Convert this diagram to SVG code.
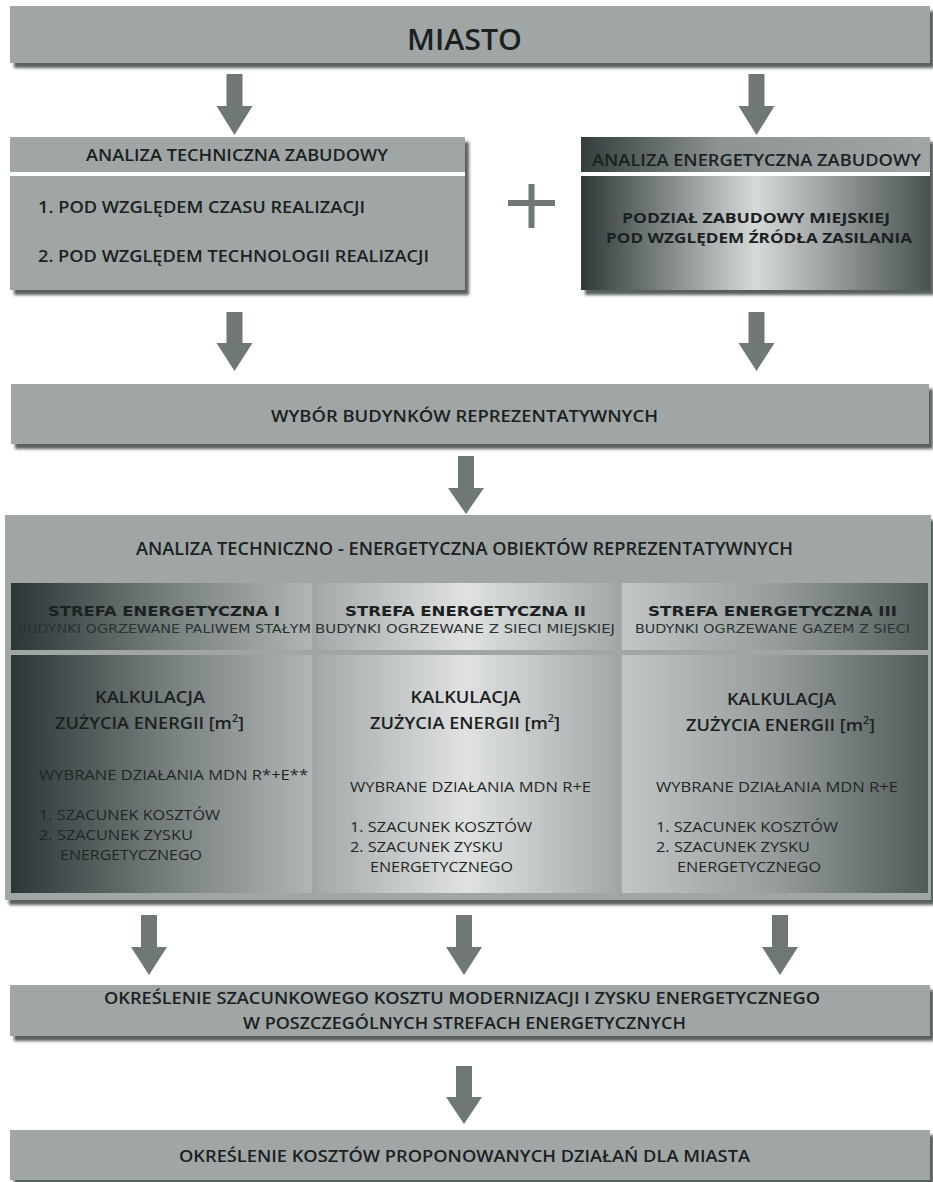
<svg xmlns="http://www.w3.org/2000/svg" width="933" height="1182" viewBox="0 0 933 1182">
<style>
.box{fill:#a0a6a6}
.arr{fill:#6f7777}
.sep{fill:#ffffff}
.t{font-family:"Open Sans","Liberation Sans",sans-serif;font-weight:600;fill:#1b2121}
.tb{font-family:"Open Sans","Liberation Sans",sans-serif;font-weight:700;fill:#1b2121}
.tr{font-family:"Open Sans","Liberation Sans",sans-serif;font-weight:400;fill:#1f2626}
.v{font-family:"DejaVu Sans","Verdana",sans-serif;font-weight:700;fill:#1b2121}
.vs{font-family:"DejaVu Sans","Verdana",sans-serif;font-weight:400;fill:#2a3232}
</style>
<defs>
<filter id="sh" x="-5%" y="-10%" width="115%" height="130%">
<feDropShadow dx="4" dy="5" stdDeviation="1.8" flood-color="#3a4242" flood-opacity="0.85"/>
</filter>
<linearGradient id="gRH" x1="0" y1="0" x2="1" y2="0">
<stop offset="0" stop-color="#343d3d"/><stop offset="0.4" stop-color="#8e9494"/><stop offset="1" stop-color="#a0a5a5"/>
</linearGradient>
<linearGradient id="gRB" x1="0" y1="0" x2="1" y2="0">
<stop offset="0" stop-color="#2f3838"/><stop offset="0.5" stop-color="#d6d9d9"/><stop offset="1" stop-color="#495151"/>
</linearGradient>
<linearGradient id="g1" x1="0" y1="0" x2="1" y2="0">
<stop offset="0" stop-color="#2c3636"/><stop offset="0.55" stop-color="#7b8282"/><stop offset="1" stop-color="#b0b5b5"/>
</linearGradient>
<linearGradient id="g2" x1="0" y1="0" x2="1" y2="0">
<stop offset="0" stop-color="#a4a9a9"/><stop offset="0.5" stop-color="#e0e2e2"/><stop offset="1" stop-color="#a4a9a9"/>
</linearGradient>
<linearGradient id="g3" x1="0" y1="0" x2="1" y2="0">
<stop offset="0" stop-color="#c2c6c6"/><stop offset="0.5" stop-color="#979d9d"/><stop offset="1" stop-color="#525a5a"/>
</linearGradient>
</defs>
<rect width="933" height="1182" fill="#ffffff"/>

<g id="connectors">
<path class="arr" d="M226.5,74h16v32h10l-18,29l-18,-29h10z"/>
<path class="arr" d="M748.5,74h16v32h10l-18,29l-18,-29h10z"/>
<path class="arr" d="M226.5,312h16v31h10l-18,28l-18,-28h10z"/>
<path class="arr" d="M748.5,312h16v31h10l-18,28l-18,-28h10z"/>
<path class="arr" d="M458,456h16v32h10l-18,26l-18,-26h10z"/>
<path class="arr" d="M141,915h16v32h10l-18,28l-18,-28h10z"/>
<path class="arr" d="M456,915h16v32h10l-18,28l-18,-28h10z"/>
<path class="arr" d="M772,915h16v32h10l-18,28l-18,-28h10z"/>
<path class="arr" d="M456,1066h16v31h10l-18,27l-18,-27h10z"/>
</g>

<g id="miasto">
<rect class="box" x="10" y="6" width="920" height="57" filter="url(#sh)"/>
<text class="t" x="464.5" y="50" font-size="28" text-anchor="middle" textLength="115" lengthAdjust="spacingAndGlyphs">MIASTO</text>
</g>

<g id="analiza-techniczna">
<rect class="box" x="10" y="137" width="455" height="153" filter="url(#sh)"/>
<rect class="sep" x="10" y="172" width="455" height="4"/>
<text class="t" x="237" y="161" font-size="16" text-anchor="middle" textLength="302" lengthAdjust="spacingAndGlyphs">ANALIZA TECHNICZNA ZABUDOWY</text>
<text class="t" x="38" y="213" font-size="17" textLength="327" lengthAdjust="spacingAndGlyphs">1. POD WZGLĘDEM CZASU REALIZACJI</text>
<text class="t" x="38" y="262" font-size="17" textLength="391" lengthAdjust="spacingAndGlyphs">2. POD WZGLĘDEM TECHNOLOGII REALIZACJI</text>
</g>

<g id="plus">
<rect class="arr" x="508" y="200" width="47" height="6" fill="#7f8585"/>
<rect class="arr" x="528.5" y="184" width="6" height="44" fill="#7f8585"/>
</g>

<g id="analiza-energetyczna">
<rect x="581" y="137" width="349" height="153" fill="#a0a6a6" filter="url(#sh)"/>
<rect x="581" y="137" width="349" height="35" fill="url(#gRH)"/>
<rect class="sep" x="581" y="172" width="349" height="4"/>
<rect x="581" y="176" width="349" height="114" fill="url(#gRB)"/>
<text class="t" x="756.5" y="166" font-size="16" text-anchor="middle" textLength="329" lengthAdjust="spacingAndGlyphs">ANALIZA ENERGETYCZNA ZABUDOWY</text>
<text class="tb" x="756" y="223" font-size="15" text-anchor="middle" textLength="268" lengthAdjust="spacingAndGlyphs">PODZIAŁ ZABUDOWY MIEJSKIEJ</text>
<text class="tb" x="759" y="243" font-size="15" text-anchor="middle" textLength="306" lengthAdjust="spacingAndGlyphs">POD WZGLĘDEM ŹRÓDŁA ZASILANIA</text>
</g>

<g id="wybor">
<rect class="box" x="11" y="384" width="918" height="60" filter="url(#sh)"/>
<text class="t" x="464.5" y="422" font-size="17" text-anchor="middle" textLength="387" lengthAdjust="spacingAndGlyphs">WYBÓR BUDYNKÓW REPREZENTATYWNYCH</text>
</g>

<g id="analiza-obiektow">
<rect class="box" x="5" y="515" width="926" height="385" filter="url(#sh)"/>
<text class="t" x="464.5" y="555" font-size="17.5" text-anchor="middle" textLength="657" lengthAdjust="spacingAndGlyphs">ANALIZA TECHNICZNO - ENERGETYCZNA OBIEKTÓW REPREZENTATYWNYCH</text>
</g>

<g id="strefa-1">
<rect x="11" y="583" width="301" height="67" fill="url(#g1)"/>
<rect x="11" y="655" width="301" height="238" fill="url(#g1)"/>
<text class="v" x="164" y="616" font-size="14" text-anchor="middle" textLength="232" lengthAdjust="spacingAndGlyphs">STREFA ENERGETYCZNA I</text>
<text class="vs" x="164" y="633" font-size="11.5" text-anchor="middle" textLength="294" lengthAdjust="spacingAndGlyphs">BUDYNKI OGRZEWANE PALIWEM STAŁYM</text>
<text class="t" x="150" y="703" font-size="17" text-anchor="middle" textLength="110" lengthAdjust="spacingAndGlyphs">KALKULACJA</text>
<text class="t" x="149.5" y="729" font-size="17" text-anchor="middle" textLength="189" lengthAdjust="spacingAndGlyphs">ZUŻYCIA ENERGII [m<tspan font-size="10" dy="-7">2</tspan><tspan dy="7">]</tspan></text>
<text class="tr" x="39" y="780" font-size="14" textLength="269" lengthAdjust="spacingAndGlyphs">WYBRANE DZIAŁANIA MDN R*+E**</text>
<text class="tr" x="39" y="820" font-size="14" textLength="181" lengthAdjust="spacingAndGlyphs">1. SZACUNEK KOSZTÓW</text>
<text class="tr" x="39" y="840" font-size="14" textLength="154" lengthAdjust="spacingAndGlyphs">2. SZACUNEK ZYSKU</text>
<text class="tr" x="60" y="860" font-size="14" textLength="142" lengthAdjust="spacingAndGlyphs">ENERGETYCZNEGO</text>
</g>

<g id="strefa-2">
<rect x="317" y="583" width="299" height="67" fill="url(#g2)"/>
<rect x="317" y="655" width="299" height="238" fill="url(#g2)"/>
<text class="v" x="465.5" y="616" font-size="14" text-anchor="middle" textLength="241" lengthAdjust="spacingAndGlyphs">STREFA ENERGETYCZNA II</text>
<text class="vs" x="465" y="633" font-size="11.5" text-anchor="middle" textLength="300" lengthAdjust="spacingAndGlyphs">BUDYNKI OGRZEWANE Z SIECI MIEJSKIEJ</text>
<text class="t" x="465.5" y="703" font-size="17" text-anchor="middle" textLength="110" lengthAdjust="spacingAndGlyphs">KALKULACJA</text>
<text class="t" x="465" y="729" font-size="17" text-anchor="middle" textLength="190" lengthAdjust="spacingAndGlyphs">ZUŻYCIA ENERGII [m<tspan font-size="10" dy="-7">2</tspan><tspan dy="7">]</tspan></text>
<text class="tr" x="350" y="792" font-size="14" textLength="241" lengthAdjust="spacingAndGlyphs">WYBRANE DZIAŁANIA MDN R+E</text>
<text class="tr" x="350" y="832" font-size="14" textLength="182" lengthAdjust="spacingAndGlyphs">1. SZACUNEK KOSZTÓW</text>
<text class="tr" x="350" y="852" font-size="14" textLength="153" lengthAdjust="spacingAndGlyphs">2. SZACUNEK ZYSKU</text>
<text class="tr" x="370" y="872" font-size="14" textLength="143" lengthAdjust="spacingAndGlyphs">ENERGETYCZNEGO</text>
</g>

<g id="strefa-3">
<rect x="622" y="583" width="306" height="67" fill="url(#g3)"/>
<rect x="622" y="655" width="306" height="238" fill="url(#g3)"/>
<text class="v" x="772.5" y="616" font-size="14" text-anchor="middle" textLength="249" lengthAdjust="spacingAndGlyphs">STREFA ENERGETYCZNA III</text>
<text class="vs" x="772.5" y="633" font-size="11.5" text-anchor="middle" textLength="275" lengthAdjust="spacingAndGlyphs">BUDYNKI OGRZEWANE GAZEM Z SIECI</text>
<text class="t" x="781.5" y="705" font-size="17" text-anchor="middle" textLength="109" lengthAdjust="spacingAndGlyphs">KALKULACJA</text>
<text class="t" x="780.5" y="731" font-size="17" text-anchor="middle" textLength="189" lengthAdjust="spacingAndGlyphs">ZUŻYCIA ENERGII [m<tspan font-size="10" dy="-7">2</tspan><tspan dy="7">]</tspan></text>
<text class="tr" x="656" y="792" font-size="14" textLength="242" lengthAdjust="spacingAndGlyphs">WYBRANE DZIAŁANIA MDN R+E</text>
<text class="tr" x="656" y="832" font-size="14" textLength="182" lengthAdjust="spacingAndGlyphs">1. SZACUNEK KOSZTÓW</text>
<text class="tr" x="656" y="852" font-size="14" textLength="154" lengthAdjust="spacingAndGlyphs">2. SZACUNEK ZYSKU</text>
<text class="tr" x="677" y="872" font-size="14" textLength="144" lengthAdjust="spacingAndGlyphs">ENERGETYCZNEGO</text>
</g>

<g id="okreslenie-kosztu">
<rect class="box" x="10" y="985" width="920" height="51" filter="url(#sh)"/>
<text class="t" x="462" y="1004" font-size="17" text-anchor="middle" textLength="716" lengthAdjust="spacingAndGlyphs">OKREŚLENIE SZACUNKOWEGO KOSZTU MODERNIZACJI I ZYSKU ENERGETYCZNEGO</text>
<text class="t" x="464.5" y="1029" font-size="17" text-anchor="middle" textLength="443" lengthAdjust="spacingAndGlyphs">W POSZCZEGÓLNYCH STREFACH ENERGETYCZNYCH</text>
</g>

<g id="okreslenie-dzialan">
<rect class="box" x="10" y="1130" width="920" height="50" filter="url(#sh)"/>
<text class="t" x="464.5" y="1162" font-size="17" text-anchor="middle" textLength="571" lengthAdjust="spacingAndGlyphs">OKREŚLENIE KOSZTÓW PROPONOWANYCH DZIAŁAŃ DLA MIASTA</text>
</g>
</svg>
